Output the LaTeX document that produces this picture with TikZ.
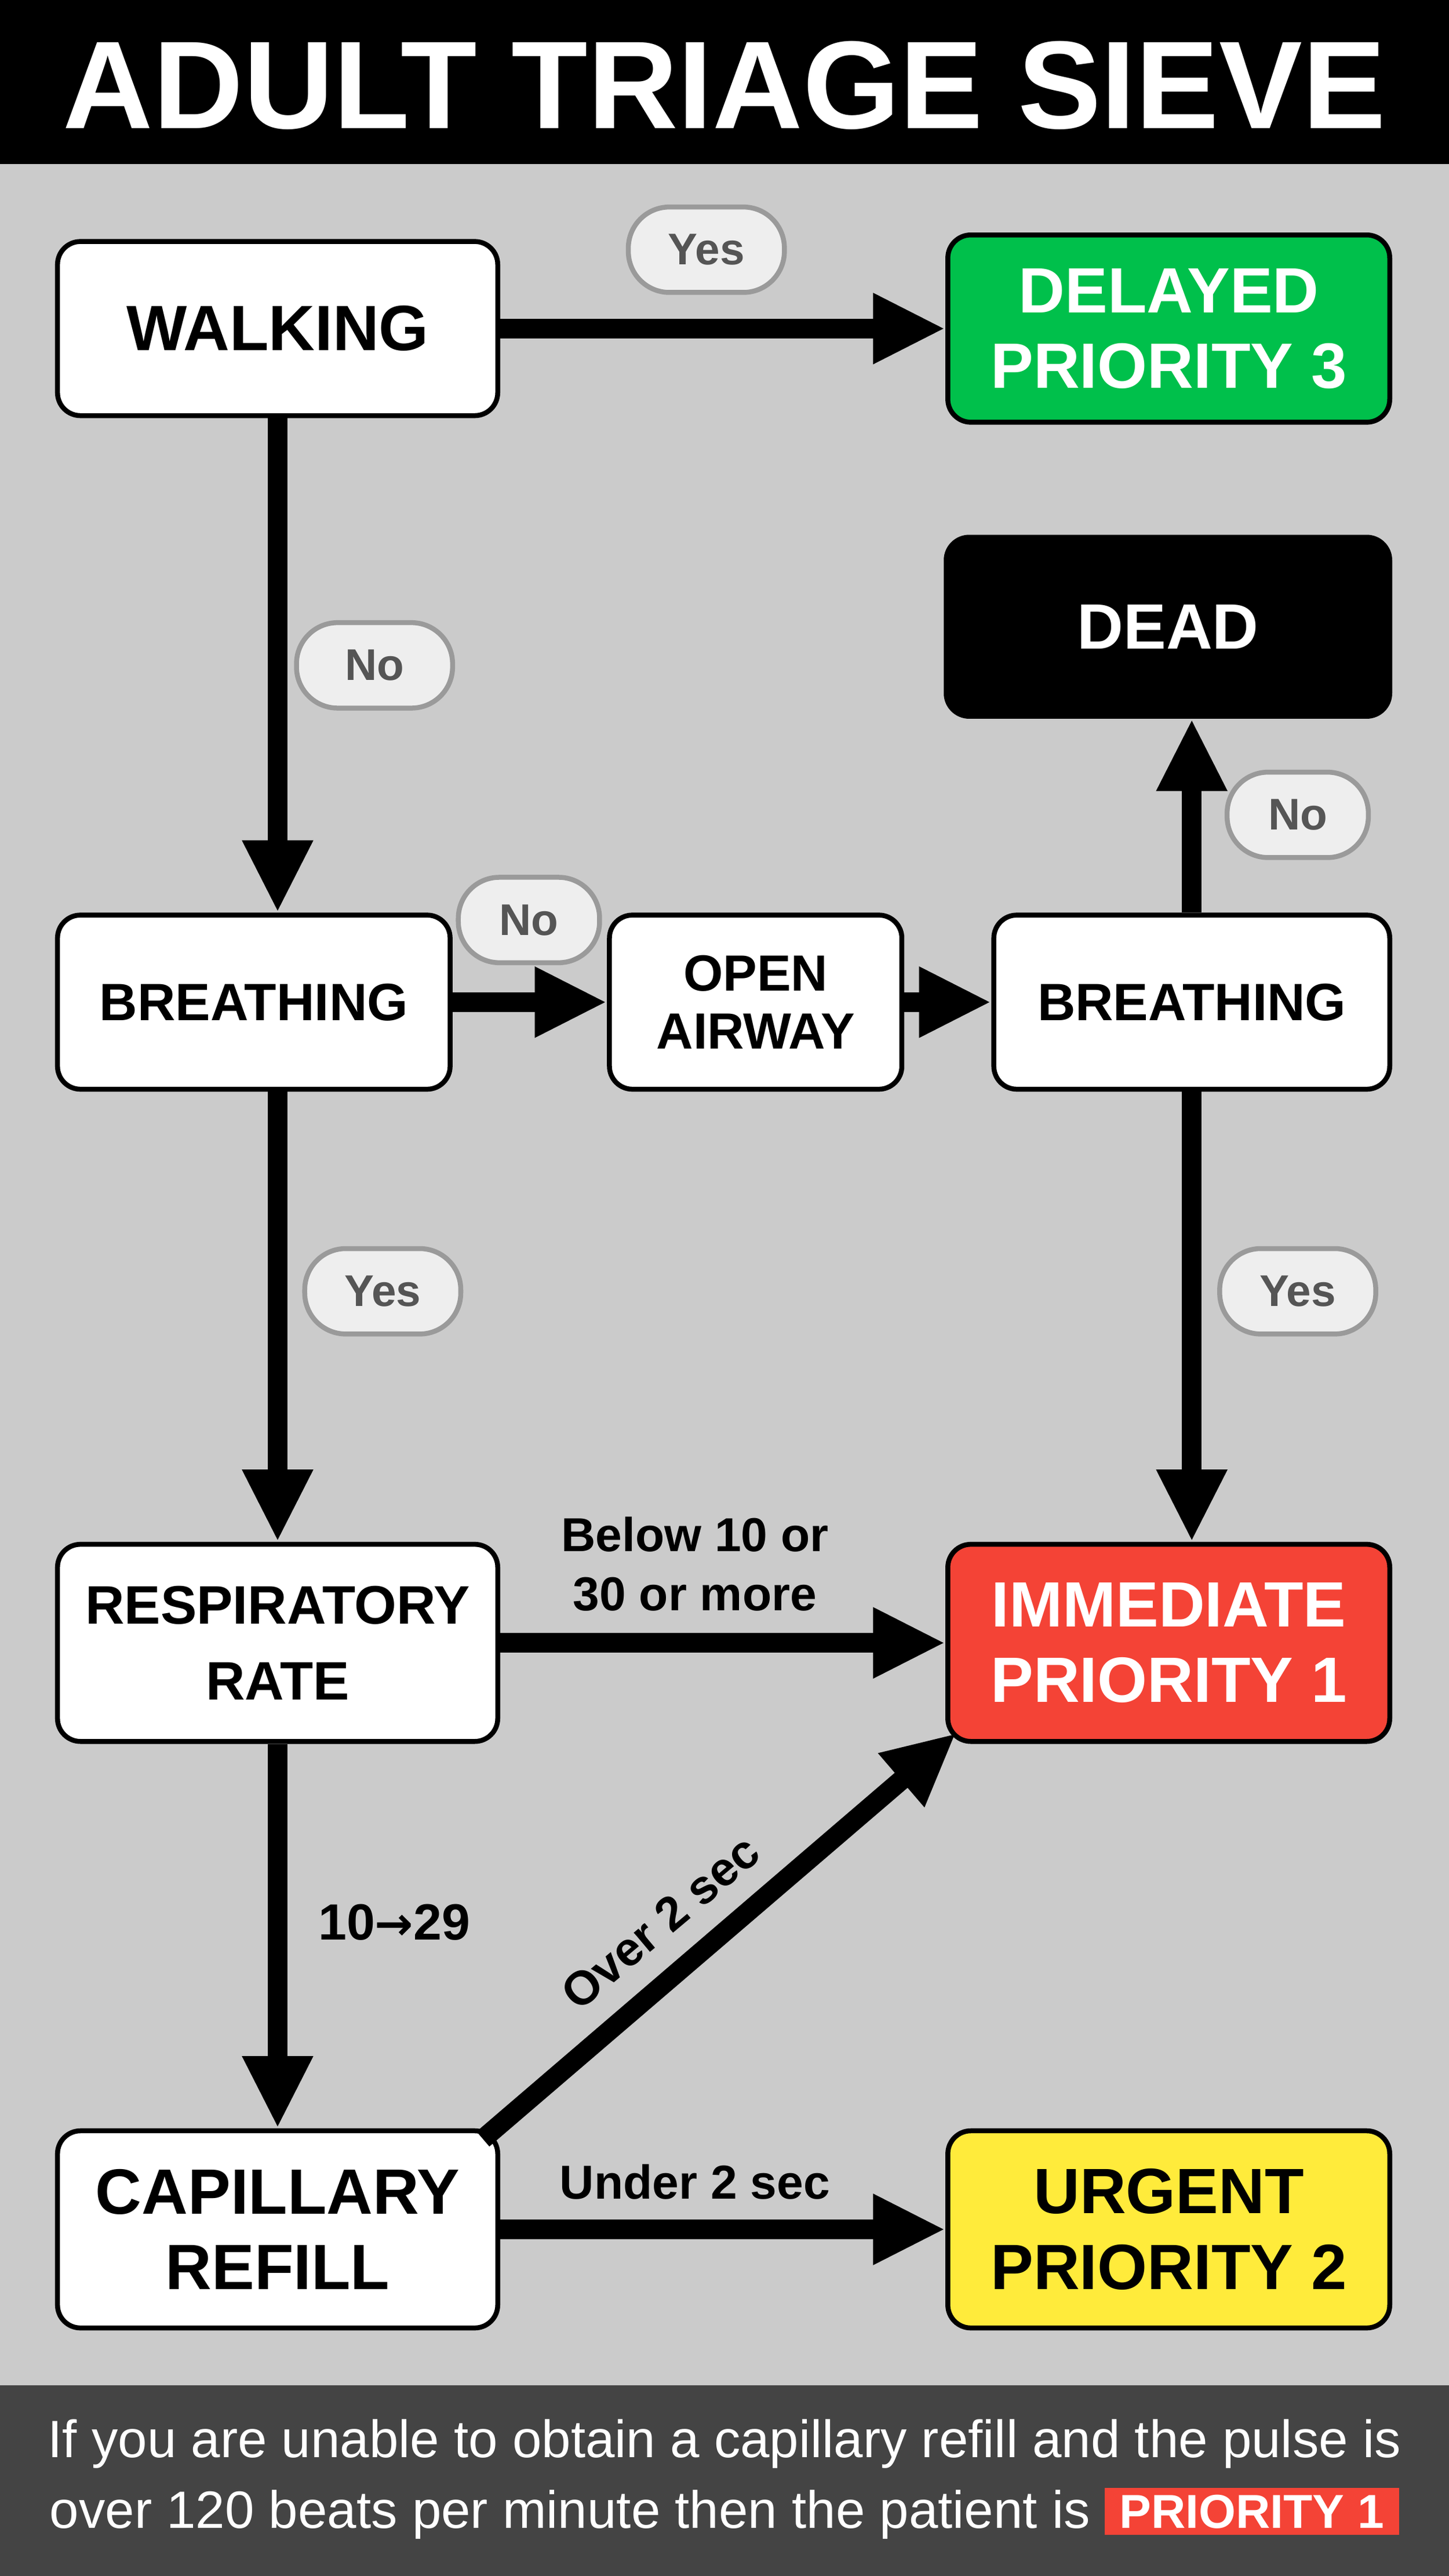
\documentclass[tikz,border=0pt]{standalone}
\usepackage{fontspec}
\setmainfont{Liberation Sans}
\newfontfamily\dv{DejaVu Sans}
\usetikzlibrary{arrows.meta}
\definecolor{bg}{HTML}{CBCBCB}
\definecolor{foot}{HTML}{444444}
\definecolor{grn}{HTML}{00C04B}
\definecolor{rd}{HTML}{F44336}
\definecolor{yl}{HTML}{FFEB3B}
\definecolor{pillf}{HTML}{EEEEEE}
\definecolor{pilld}{HTML}{9A9A9A}
\definecolor{pillt}{HTML}{555555}
\tikzset{
 box/.style={draw=black,line width=3pt,rounded corners=14pt,fill=white,inner sep=0pt,align=center,font=\fontsize{39}{46}\selectfont\bfseries},
 pill/.style={draw=pilld,fill=pillf,line width=3pt,rounded corners=25pt,minimum width=95pt,minimum height=52pt,inner sep=0pt,text=pillt,font=\fontsize{27}{30}\selectfont\bfseries},
 arr/.style={line width=12pt,-{Triangle[length=44pt,width=40pt]}},
 lab/.style={font=\fontsize{29}{36}\selectfont\bfseries,align=center}
}
\begin{document}
\begin{tikzpicture}[x=1pt,y=-1pt]
\useasboundingbox (0,0) rectangle (882,1568);
\fill[black] (0,0) rectangle (882,100);
\fill[bg] (0,100) rectangle (882,1452);
\fill[foot] (0,1452) rectangle (882,1568);
\node[text=white,font=\fontsize{76}{80}\selectfont\bfseries] (title) at (441,52) {ADULT TRIAGE SIEVE};
% boxes
\node[box,minimum width=268pt,minimum height=106pt] (walk) at (169,200) {WALKING};
\node[box,fill=grn,text=white,minimum width=269pt,minimum height=114pt] (del) at (711.5,200) {DELAYED\\PRIORITY 3};
\node[box,fill=black,text=white,minimum width=270pt,minimum height=109pt] (dead) at (711,381.5) {DEAD};
\node[box,minimum width=239pt,minimum height=106pt,font=\fontsize{32}{38}\selectfont\bfseries] (br1) at (154.5,610) {BREATHING};
\node[box,minimum width=178pt,minimum height=106pt,font=\fontsize{31}{35}\selectfont\bfseries] (oa) at (460,610) {OPEN\\AIRWAY};
\node[box,minimum width=241pt,minimum height=106pt,font=\fontsize{32}{38}\selectfont\bfseries] (br2) at (725.5,610) {BREATHING};
\node[box,minimum width=268pt,minimum height=120pt,font=\fontsize{33}{46}\selectfont\bfseries] (rr) at (169,1000) {RESPIRATORY\\RATE};
\node[box,fill=rd,text=white,minimum width=269pt,minimum height=120pt] (imm) at (711.5,1000) {IMMEDIATE\\PRIORITY 1};
\node[box,minimum width=268pt,minimum height=120pt] (cap) at (169,1357) {CAPILLARY\\REFILL};
\node[box,fill=yl,minimum width=269pt,minimum height=120pt] (urg) at (711.5,1357) {URGENT\\PRIORITY 2};
% arrows
\draw[arr] (walk.east) -- (del.west);
\draw[arr] (walk.south) -- (br1.north-|walk.south);
\draw[arr] (br1.east) -- (oa.west);
\draw[arr] (oa.east) -- (br2.west);
\draw[arr] (br2.north) -- (dead.south-|br2.north);
\draw[arr] (br1.south-|rr.north) -- (rr.north);
\draw[arr] (br2.south) -- (imm.north-|br2.south);
\draw[arr] (rr.east) -- (imm.west);
\draw[arr] (rr.south) -- (cap.north);
\draw[arr] (cap.east) -- (urg.west);
\coordinate (c1) at (294,1302);
\coordinate (c2) at (582,1055);
\draw[arr] (c1) -- (c2);
% pills
\node[pill] (p1) at (430,152) {Yes};
\node[pill] (p2) at (228,405) {No};
\node[pill,minimum width=86pt] (p3) at (322,560) {No};
\node[pill,minimum width=86pt] (p4) at (790,496) {No};
\node[pill] (p5) at (233,786) {Yes};
\node[pill] (p6) at (790,786) {Yes};
% labels
\node[lab] (l1) at (423,952) {Below 10 or\\30 or more};
\node[lab,font=\fontsize{31}{36}\selectfont\bfseries] (l2) at (240,1170) {10{\dv\fontsize{28}{30}\selectfont→}29};
\node[lab,rotate=40] (l3) at (402,1170) {Over 2 sec};
\node[lab] (l4) at (423,1328) {Under 2 sec};
% footer
\node[text=white,font=\fontsize{32}{43}\selectfont,align=center] (ft) at (441,1509) {If you are unable to obtain a capillary refill and the pulse is\\over 120 beats per minute then the patient is \tikz[baseline=(pp.base)]\node[fill=rd,text=white,font=\fontsize{29}{30}\selectfont\bfseries,inner xsep=9pt,inner ysep=4pt] (pp) {PRIORITY 1};};
\end{tikzpicture}
\end{document}
